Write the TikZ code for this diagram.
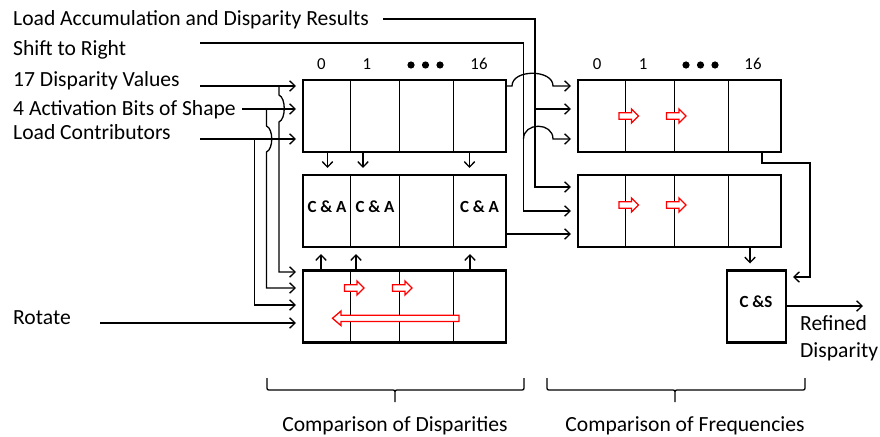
\documentclass[tikz,border=0pt]{standalone}
\usepackage{fontspec}
\setmainfont{Carlito}
\usetikzlibrary{arrows.meta}
\begin{document}
\begin{tikzpicture}[x=1pt,y=-1pt,
  reg/.style={draw, line width=2.5pt, inner sep=0pt, outer sep=0pt,
              minimum width=203pt, minimum height=72pt},
  csbox/.style={draw, line width=2.5pt, inner sep=0pt, outer sep=0pt,
             minimum width=59pt, minimum height=72pt},
  divider/.style={line width=0.9pt},
  wire/.style={line width=1.3pt},
  arr/.style={wire, -{Straight Barb[length=5.5pt,width=10.5pt]}, shorten >=7pt},
  outarr/.style={wire, -{Straight Barb[length=5.5pt,width=10.5pt]}},
  lbl/.style={anchor=base west, inner sep=0pt, font=\fontsize{21.6}{26}\selectfont},
  captext/.style={anchor=base, inner sep=0pt, font=\fontsize{21.6}{26}\selectfont},
  idx/.style={anchor=base, inner sep=0pt, font=\fontsize{16.8}{20}\selectfont},
  cell/.style={anchor=base, inner sep=0pt, font=\fontsize{17}{20}\selectfont\bfseries},
  shiftarrow/.pic={\draw[red, line width=1.3pt, fill=white]
      (0,-3.2) -- (12.5,-3.2) -- (12.5,-7) -- (19.5,0) -- (12.5,7) -- (12.5,3.2) -- (0,3.2) -- cycle;},
]
\useasboundingbox (0,0) rectangle (880,436);

% ---- registers ----
\node[reg] (A) at (404.5,116) {};
\node[reg] (B) at (404.5,211) {};
\node[reg] (C) at (404.5,306.5) {};
\node[reg] (D) at (679.5,116) {};
\node[reg] (E) at (679.5,211) {};
\node[csbox] (CS) at (756.5,306.5) {};

\foreach \n in {A,B,C,D,E}
  \foreach \d in {47.5,96,150}
    \draw[divider] ([xshift=\d pt]\n.north west) -- ([xshift=\d pt]\n.south west);

% ---- cell indices ----
\node[idx] (a0) at (321.5,70) {0};
\node[idx] (a1) at (367,70) {1};
\node[idx] (a16) at (479,70) {16};
\node[idx] (d0) at (597,70) {0};
\node[idx] (d1) at (643,70) {1};
\node[idx] (d16) at (753,70) {16};
\foreach \x in {411,425.5,440,686,700.5,715}
  \fill (\x,65) circle (3.6pt);

% ---- cell contents ----
\node[cell] (ca1) at (327,212.7) {C \& A};
\node[cell] (ca2) at (375,212.7) {C \& A};
\node[cell] (ca3) at (479.5,212.7) {C \& A};
\node[cell] (cstxt) at (756,307.7) {C \&S};

% ---- shift markers ----
\pic at (619,116) {shiftarrow};
\pic at (666.5,116) {shiftarrow};
\pic at (619,205) {shiftarrow};
\pic at (666.5,205) {shiftarrow};
\pic at (344.5,288) {shiftarrow};
\pic at (392.5,288) {shiftarrow};
\draw[red, line width=1.3pt, fill=white]
  (459,315.2) -- (341,315.2) -- (341,311) -- (332.5,318.3) -- (341,325.6) -- (341,321.4) -- (459,321.4) -- cycle;

% ---- control labels ----
\node[lbl] (tLA)  at (13,26)    {Load Accumulation and Disparity Results};
\node[lbl] (tSR)  at (13,56)    {Shift to Right};
\node[lbl] (t17)  at (13,86)    {17 Disparity Values};
\node[lbl] (t4)   at (13,115.7) {4 Activation Bits of Shape};
\node[lbl] (tLC)  at (13,139.3) {Load Contributors};
\node[lbl] (tRot) at (13,324.3) {Rotate};
\node[lbl] (tRef) at (800,330)  {Refined};
\node[lbl] (tDis) at (800,357)  {Disparity};

\coordinate (la0) at (383,19);
\coordinate (sr0) at (200,43);
\coordinate (s17) at (200,86);
\coordinate (s4)  at (242,109);
\coordinate (slc) at (200,139);
\coordinate (srot) at (100,323);
\coordinate (out) at (863,306);

% ---- inputs of the left registers ----
\draw[arr] (s17) -- (A.west |- s17);
\draw[arr] (s4)  -- (A.west |- s4);
\draw[arr] (slc) -- (A.west |- slc);
\draw[arr] (srot) -- (C.west |- srot);
\draw[arr] (279,86) -- (279,95) .. controls (286,98) and (286,119) .. (279,122)
           -- (279,272) -- (C.west |- 0,272);
\draw[arr] (266.5,109) -- (266.5,126) .. controls (273.5,129) and (273.5,149) .. (266.5,152)
           -- (266.5,288) -- (C.west |- 0,288);
\draw[arr] (254.5,139) -- (254.5,305) -- (C.west |- 0,305);

% ---- between the left registers ----
\foreach \x in {327.5,363,469.5}
  \draw[arr] (A.south -| \x,0) -- (B.north -| \x,0);
\foreach \x in {321,356,470}
  \draw[arr] (C.north -| \x,0) -- (B.south -| \x,0);

% ---- load accumulation and shift lines ----
\draw[arr] (la0) -- (535,19) -- (535,187) -- (E.west |- 0,187);
\draw[arr] (535,109) -- (D.west |- 0,109);
\draw[arr] (sr0) -- (523.5,43) -- (523.5,211) -- (E.west |- 0,211);
\draw[arr] (523.5,139) .. controls (523.5,122) and (553,122) .. (553,139) -- (D.west |- 0,139);
\draw[arr] (A.east |- 0,86) -- (512,86) .. controls (512,69) and (553,69) .. (553,86) -- (D.west |- 0,86);
\draw[arr] (B.east |- 0,234) -- (E.west |- 0,234);

% ---- compare and select ----
\draw[arr] (D.south -| 762,0) -- (762,163) -- (810,163) -- (810,277) -- (CS.east |- 0,277);
\draw[arr] (E.south -| 750,0) -- (CS.north -| 750,0);
\draw[outarr] (CS.east |- out) -- (out);

% ---- braces ----
\draw[wire] (267,378) -- (267,386) .. controls (267,390) .. (271,390) -- (391,390)
  .. controls (395,390) .. (395,394) -- (395,402)
  (395,394) .. controls (395,390) .. (399,390) -- (520,390) .. controls (524,390) .. (524,386) -- (524,378);
\draw[wire] (547,378) -- (547,386) .. controls (547,390) .. (551,390) -- (671,390)
  .. controls (675,390) .. (675,394) -- (675,402)
  (675,394) .. controls (675,390) .. (679,390) -- (801,390) .. controls (805,390) .. (805,386) -- (805,378);
\node[captext] (cmpD) at (395,431.7) {Comparison of Disparities};
\node[captext] (cmpF) at (685,431.7) {Comparison of Frequencies};
\end{tikzpicture}
\end{document}
